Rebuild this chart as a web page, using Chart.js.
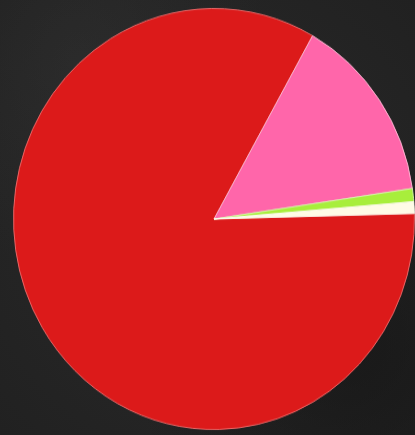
<!DOCTYPE html>
<html>
<head>
<meta charset="utf-8">
<script src="https://cdn.jsdelivr.net/npm/chart.js@4.4.0/dist/chart.umd.min.js"></script>
<style>
  html, body { margin: 0; padding: 0; }
  body {
    width: 415px; height: 435px; overflow: hidden; position: relative;
    background: #282828;
    background-image:
      radial-gradient(ellipse at 20% 15%, rgba(60,60,60,0.3), rgba(0,0,0,0) 40%),
      radial-gradient(ellipse at 85% 80%, rgba(15,15,15,0.5), rgba(0,0,0,0) 45%),
      radial-gradient(ellipse at 50% 50%, #2a2a2a, #212121);
  }
  #wrap {
    position: absolute; left: 13px; top: 18px; width: 402px; height: 402px;
    transform: scaleY(1.05); transform-origin: 50% 50%;
  }
</style>
</head>
<body>
<div id="wrap"><canvas id="c"></canvas></div>
<script>
const categories = ["Red", "Pink", "Green", "White"];
const values = [83.6, 14.5, 1.0, 0.9];
const colors = ["#dc1a1a", "#ff66aa", "#a8ee3c", "#fffbe6"];
const borders = ["rgba(240,110,110,0.9)", "rgba(255,190,215,0.9)", "rgba(215,250,170,0.9)", "rgba(255,252,240,0.9)"];

new Chart(document.getElementById("c"), {
  type: "pie",
  data: {
    labels: categories,
    datasets: [{
      data: values,
      backgroundColor: colors,
      borderColor: borders,
      borderWidth: 1
    }]
  },
  options: {
    responsive: true,
    maintainAspectRatio: false,
    animation: false,
    rotation: 88.5,
    layout: { padding: 0 },
    plugins: {
      legend: { display: false },
      tooltip: { enabled: false }
    }
  }
});
</script>
</body>
</html>
